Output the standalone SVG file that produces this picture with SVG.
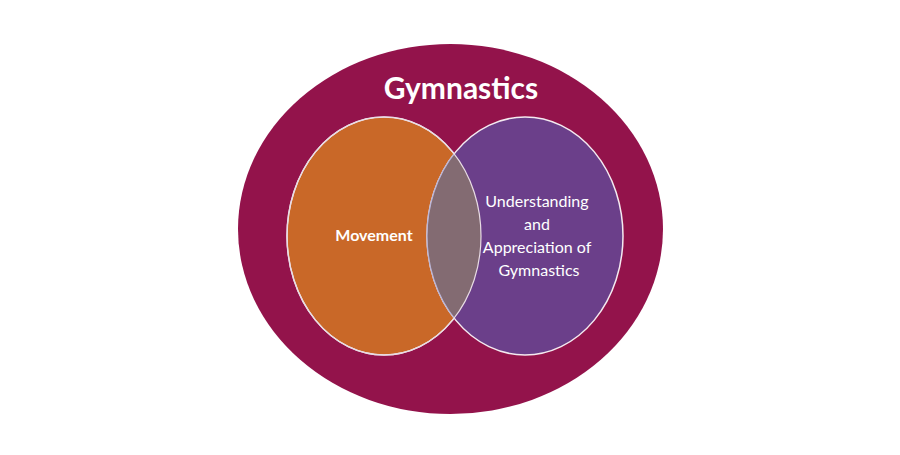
<svg xmlns="http://www.w3.org/2000/svg" width="900" height="455" viewBox="0 0 900 455">
<style>
.lbl{fill:#ffffff;font-family:Lato,"Open Sans","Liberation Sans",sans-serif;text-anchor:middle}
.b{font-weight:bold}
.set{stroke:#f4eaf0;stroke-width:1.5}
</style>
<defs>
<clipPath id="clipOrange"><ellipse cx="384" cy="236" rx="97" ry="119"/></clipPath>
</defs>
<rect width="900" height="455" fill="#ffffff"/>
<g id="gymnastics">
<ellipse cx="450.5" cy="229" rx="212.5" ry="185" fill="#93134b"/>
<text class="lbl b" x="461" y="99" font-size="30">Gymnastics</text>
</g>
<g id="movement">
<ellipse class="set" cx="384" cy="236" rx="97" ry="119" fill="#c96828"/>
<text class="lbl b" x="374" y="241" font-size="16">Movement</text>
</g>
<g id="understanding">
<ellipse class="set" cx="525" cy="236" rx="98" ry="119" fill="#6b3f8a"/>
<ellipse cx="525" cy="236" rx="98" ry="119" fill="#836b72" stroke="#b9b4d6" stroke-width="1.2" clip-path="url(#clipOrange)"/>
<ellipse cx="384" cy="236" rx="97" ry="119" fill="none" stroke="#e8dce4" stroke-width="1.2"/>
<text class="lbl" font-size="16">
<tspan x="539" y="207">Understanding</tspan>
<tspan x="539" y="230">and</tspan>
<tspan x="539" y="253">Appreciation of</tspan>
<tspan x="539" y="276">Gymnastics</tspan>
</text>
</g>
<g id="connectors"/>
</svg>
